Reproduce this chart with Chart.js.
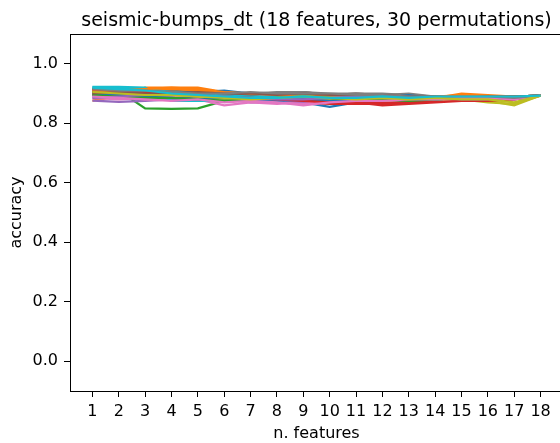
<!DOCTYPE html>
<html>
<head>
<meta charset="utf-8">
<script src="https://cdn.jsdelivr.net/npm/chart.js@4"></script>
<style>
  html, body { margin: 0; padding: 0; background: #fff; overflow: hidden; }
  #wrap { width: 560px; height: 443px; overflow: hidden; }
</style>
</head>
<body>
<div id="wrap"><canvas id="myChart" width="580" height="443"></canvas></div>
<script>
// x values (number of features) and y tick labels
let features = [1, 2, 3, 4, 5, 6, 7, 8, 9, 10, 11, 12, 13, 14, 15, 16, 17, 18];
let yTicks = [0.0, 0.2, 0.4, 0.6, 0.8, 1.0];

// matplotlib tab10 colours, cycled over the 30 permutations
let colors = ['#1f77b4', '#ff7f0e', '#2ca02c', '#d62728', '#9467bd',
              '#8c564b', '#e377c2', '#7f7f7f', '#bcbd22', '#17becf'];

// accuracy of each permutation
let perm1 = [0.905, 0.905, 0.900, 0.895, 0.890, 0.885, 0.880, 0.875, 0.870, 0.855, 0.870, 0.875, 0.880, 0.880, 0.875, 0.880, 0.885, 0.893];
let perm2 = [0.876, 0.890, 0.920, 0.920, 0.920, 0.905, 0.900, 0.895, 0.890, 0.885, 0.885, 0.885, 0.890, 0.885, 0.895, 0.890, 0.885, 0.893];
let perm3 = [0.915, 0.910, 0.850, 0.848, 0.850, 0.875, 0.880, 0.885, 0.880, 0.875, 0.880, 0.885, 0.890, 0.885, 0.885, 0.890, 0.890, 0.893];
let perm4 = [0.910, 0.905, 0.905, 0.900, 0.895, 0.885, 0.880, 0.875, 0.870, 0.865, 0.865, 0.870, 0.870, 0.875, 0.880, 0.880, 0.885, 0.893];
let perm5 = [0.876, 0.872, 0.875, 0.880, 0.885, 0.880, 0.870, 0.870, 0.865, 0.870, 0.875, 0.880, 0.875, 0.880, 0.885, 0.885, 0.880, 0.893];
let perm6 = [0.900, 0.895, 0.895, 0.900, 0.905, 0.900, 0.895, 0.900, 0.905, 0.895, 0.900, 0.895, 0.890, 0.890, 0.890, 0.885, 0.890, 0.893];
let perm7 = [0.895, 0.890, 0.880, 0.885, 0.880, 0.860, 0.870, 0.865, 0.870, 0.875, 0.875, 0.880, 0.880, 0.885, 0.885, 0.880, 0.885, 0.893];
let perm8 = [0.920, 0.915, 0.910, 0.905, 0.905, 0.900, 0.900, 0.900, 0.905, 0.900, 0.900, 0.895, 0.900, 0.890, 0.885, 0.890, 0.890, 0.893];
let perm9 = [0.915, 0.900, 0.890, 0.890, 0.895, 0.885, 0.875, 0.890, 0.900, 0.885, 0.880, 0.885, 0.885, 0.875, 0.880, 0.875, 0.860, 0.893];
let perm10 = [0.922, 0.922, 0.920, 0.875, 0.875, 0.875, 0.880, 0.880, 0.885, 0.885, 0.890, 0.890, 0.890, 0.885, 0.885, 0.885, 0.890, 0.893];
let perm11 = [0.910, 0.915, 0.915, 0.910, 0.905, 0.910, 0.900, 0.895, 0.890, 0.880, 0.885, 0.890, 0.895, 0.885, 0.880, 0.885, 0.890, 0.893];
let perm12 = [0.900, 0.905, 0.910, 0.915, 0.910, 0.900, 0.890, 0.885, 0.880, 0.885, 0.880, 0.875, 0.880, 0.885, 0.900, 0.895, 0.890, 0.893];
let perm13 = [0.905, 0.900, 0.895, 0.890, 0.885, 0.880, 0.885, 0.890, 0.885, 0.880, 0.875, 0.880, 0.885, 0.890, 0.885, 0.880, 0.885, 0.893];
let perm14 = [0.895, 0.900, 0.900, 0.905, 0.900, 0.895, 0.885, 0.880, 0.875, 0.870, 0.865, 0.865, 0.870, 0.875, 0.875, 0.880, 0.885, 0.893];
let perm15 = [0.890, 0.885, 0.885, 0.890, 0.890, 0.885, 0.880, 0.875, 0.870, 0.875, 0.880, 0.885, 0.890, 0.890, 0.885, 0.885, 0.880, 0.893];
let perm16 = [0.905, 0.910, 0.910, 0.905, 0.900, 0.895, 0.895, 0.900, 0.900, 0.890, 0.895, 0.890, 0.885, 0.885, 0.890, 0.890, 0.890, 0.893];
let perm17 = [0.885, 0.880, 0.885, 0.890, 0.895, 0.885, 0.880, 0.870, 0.865, 0.875, 0.880, 0.875, 0.880, 0.880, 0.875, 0.880, 0.890, 0.893];
let perm18 = [0.910, 0.905, 0.905, 0.900, 0.900, 0.905, 0.900, 0.905, 0.905, 0.895, 0.900, 0.900, 0.895, 0.890, 0.890, 0.885, 0.890, 0.893];
let perm19 = [0.900, 0.895, 0.900, 0.895, 0.890, 0.880, 0.885, 0.880, 0.885, 0.880, 0.880, 0.875, 0.885, 0.880, 0.880, 0.870, 0.865, 0.893];
let perm20 = [0.915, 0.920, 0.915, 0.905, 0.900, 0.895, 0.890, 0.890, 0.885, 0.890, 0.890, 0.885, 0.890, 0.890, 0.890, 0.890, 0.890, 0.893];
let perm21 = [0.900, 0.895, 0.890, 0.885, 0.880, 0.885, 0.880, 0.875, 0.880, 0.875, 0.880, 0.885, 0.895, 0.880, 0.885, 0.885, 0.890, 0.893];
let perm22 = [0.910, 0.910, 0.915, 0.920, 0.915, 0.905, 0.900, 0.895, 0.890, 0.890, 0.885, 0.890, 0.885, 0.890, 0.895, 0.890, 0.890, 0.893];
let perm23 = [0.895, 0.890, 0.885, 0.885, 0.880, 0.875, 0.880, 0.885, 0.890, 0.885, 0.880, 0.880, 0.875, 0.880, 0.885, 0.885, 0.885, 0.893];
let perm24 = [0.915, 0.910, 0.905, 0.900, 0.895, 0.890, 0.885, 0.880, 0.875, 0.870, 0.870, 0.860, 0.865, 0.870, 0.875, 0.875, 0.880, 0.893];
let perm25 = [0.885, 0.890, 0.895, 0.900, 0.895, 0.890, 0.885, 0.880, 0.880, 0.885, 0.890, 0.890, 0.885, 0.885, 0.880, 0.880, 0.885, 0.893];
let perm26 = [0.900, 0.905, 0.900, 0.900, 0.905, 0.900, 0.900, 0.895, 0.900, 0.895, 0.895, 0.895, 0.890, 0.890, 0.885, 0.890, 0.890, 0.893];
let perm27 = [0.890, 0.885, 0.880, 0.875, 0.880, 0.870, 0.875, 0.870, 0.860, 0.870, 0.875, 0.875, 0.880, 0.880, 0.885, 0.885, 0.880, 0.893];
let perm28 = [0.915, 0.910, 0.910, 0.905, 0.900, 0.900, 0.905, 0.900, 0.900, 0.900, 0.895, 0.895, 0.890, 0.890, 0.890, 0.890, 0.885, 0.893];
let perm29 = [0.905, 0.900, 0.895, 0.895, 0.890, 0.885, 0.880, 0.885, 0.890, 0.885, 0.880, 0.885, 0.880, 0.885, 0.880, 0.880, 0.870, 0.893];
let perm30 = [0.920, 0.915, 0.910, 0.900, 0.895, 0.890, 0.885, 0.885, 0.890, 0.885, 0.885, 0.890, 0.885, 0.890, 0.890, 0.890, 0.890, 0.893];

let perms = [perm1, perm2, perm3, perm4, perm5, perm6, perm7, perm8, perm9, perm10,
             perm11, perm12, perm13, perm14, perm15, perm16, perm17, perm18, perm19, perm20,
             perm21, perm22, perm23, perm24, perm25, perm26, perm27, perm28, perm29, perm30];

let titleText = "seismic-bumps_dt (18 features, 30 permutations)";
let font = "'DejaVu Sans', sans-serif";

// datasets: later permutations drawn on top, like matplotlib
let datasets = perms.map(function (vals, i) {
    return {
        label: "perm " + (i + 1),
        data: vals.map(function (v, j) { return { x: features[j], y: v }; }),
        borderColor: colors[i % colors.length],
        backgroundColor: colors[i % colors.length],
        borderWidth: 2.2,
        pointRadius: 0,
        fill: false,
        tension: 0,
        order: perms.length - i
    };
});

// frame on all four sides + title centred over the plot
let framePlugin = {
    id: "frame",
    afterDatasetsDraw: function (chart) {
        let ctx = chart.ctx;
        let a = chart.chartArea;
        ctx.save();
        ctx.strokeStyle = "#000";
        ctx.lineWidth = 1;
        ctx.strokeRect(Math.round(a.left) + 0.5, Math.round(a.top) + 0.5,
                       Math.round(a.right - a.left), Math.round(a.bottom - a.top));
        ctx.restore();
    },
    afterDraw: function (chart) {
        let ctx = chart.ctx;
        let a = chart.chartArea;
        ctx.save();
        ctx.fillStyle = "#000";
        ctx.font = "19px " + font;
        ctx.textAlign = "center";
        ctx.textBaseline = "alphabetic";
        ctx.fillText(titleText, (a.left + a.right) / 2, 26);
        ctx.restore();
    }
};

let config = {
    type: "line",
    data: { datasets: datasets },
    options: {
        responsive: false,
        animation: false,
        devicePixelRatio: 1,
        layout: { padding: { top: 34, right: 17, left: 0, bottom: 0 } },
        plugins: {
            legend: { display: false },
            title: { display: false },
            tooltip: { enabled: false }
        },
        scales: {
            x: {
                type: "linear",
                min: 0.15,
                max: 18.85,
                afterBuildTicks: function (scale) {
                    scale.ticks = features.map(function (v) { return { value: v }; });
                },
                afterFit: function (scale) { scale.height = 52; },
                grid: { drawOnChartArea: false, drawTicks: true, tickLength: 6, color: "#000", lineWidth: 1 },
                border: { color: "#000", width: 1 },
                ticks: {
                    color: "#000",
                    font: { family: font, size: 16 },
                    padding: 5,
                    maxRotation: 0,
                    autoSkip: false,
                    callback: function (v) { return String(v); }
                },
                title: {
                    display: true,
                    text: "n. features",
                    color: "#000",
                    font: { family: font, size: 16 },
                    padding: { top: 0, bottom: 0 }
                }
            },
            y: {
                type: "linear",
                min: -0.1,
                max: 1.1,
                afterBuildTicks: function (scale) {
                    scale.ticks = yTicks.map(function (v) { return { value: v }; });
                },
                afterFit: function (scale) { scale.width = 70; },
                grid: { drawOnChartArea: false, drawTicks: true, tickLength: 6, color: "#000", lineWidth: 1 },
                border: { color: "#000", width: 1 },
                ticks: {
                    color: "#000",
                    font: { family: font, size: 16 },
                    padding: 6,
                    callback: function (v) { return Number(v).toFixed(1); }
                },
                title: {
                    display: true,
                    text: "accuracy",
                    color: "#000",
                    font: { family: font, size: 16 },
                    padding: { top: 7, bottom: 0 }
                }
            }
        }
    },
    plugins: [framePlugin]
};

let ctx = document.getElementById("myChart");
new Chart(ctx, config);
</script>
</body>
</html>
